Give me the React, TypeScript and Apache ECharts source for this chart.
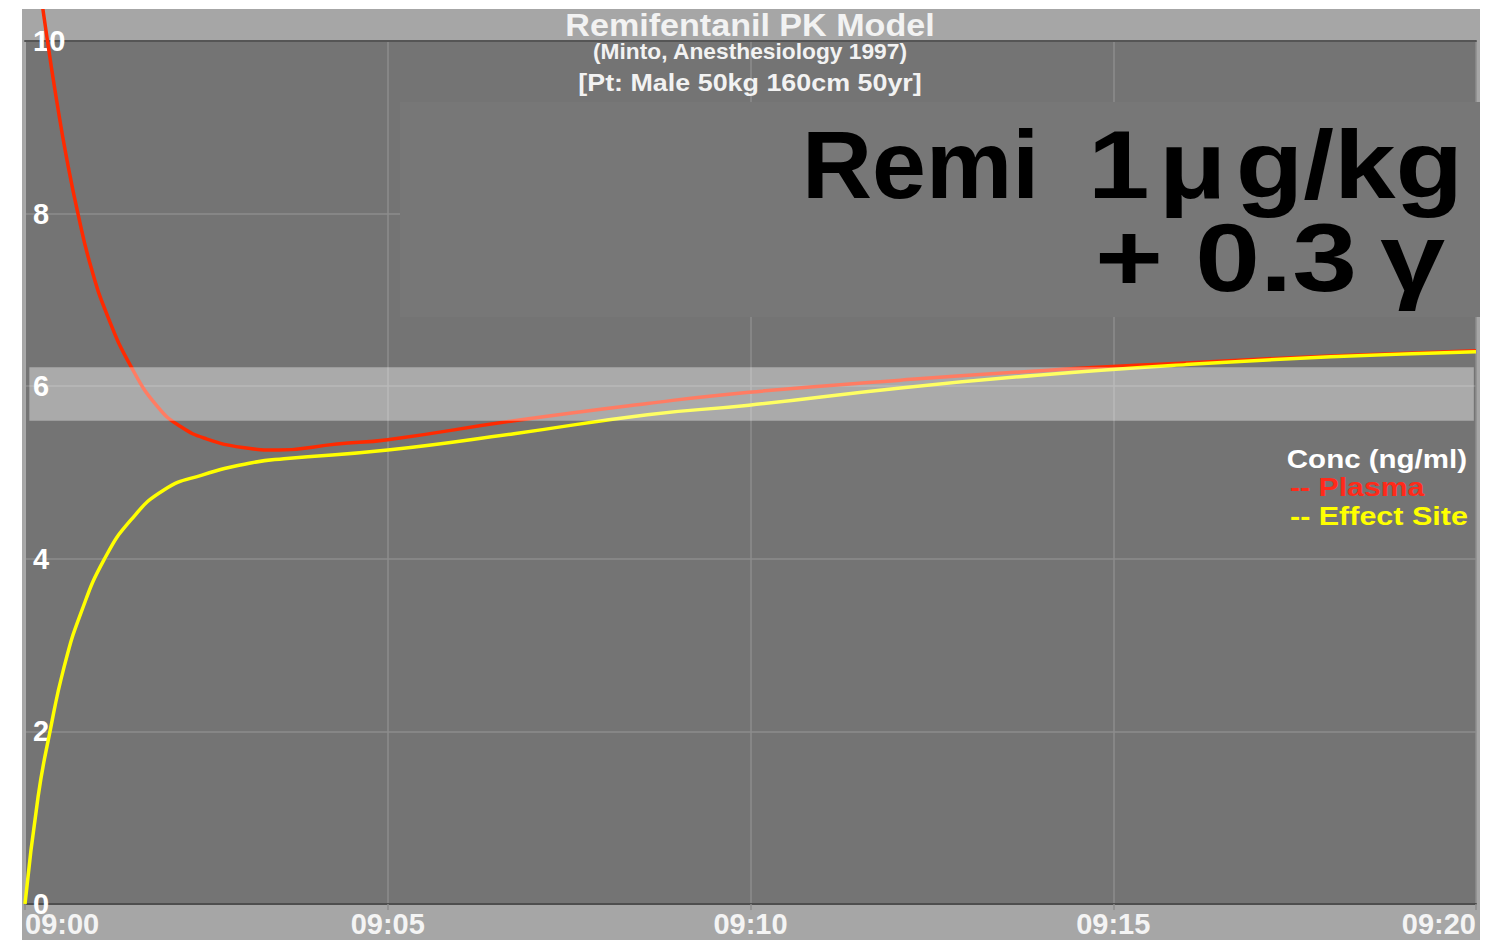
import React, { useEffect, useRef } from 'react';
import * as echarts from 'echarts';

// minutes after 09:00
const plasmaTime = [0, 0.15, 0.31, 0.45, 0.57, 0.73, 0.91, 1.14, 1.46, 1.83, 2.15, 2.5, 3.0, 3.5, 4.3, 5.0, 6.74, 8.58, 9.98, 12.07, 14, 16, 18, 20];
const plasmaConc = [12.2, 11.0, 10.0, 9.24, 8.66, 8.0, 7.38, 6.81, 6.23, 5.76, 5.53, 5.39, 5.29, 5.26, 5.33, 5.38, 5.6, 5.8, 5.93, 6.07, 6.18, 6.27, 6.35, 6.41];

const effectTime = [0, 0.18, 0.34, 0.54, 0.77, 1.09, 1.46, 1.92, 2.44, 3.11, 3.57, 5.0, 6.74, 8.58, 9.98, 12.07, 14, 16, 18, 20];
const effectConc = [0, 1.24, 1.98, 2.75, 3.37, 3.99, 4.45, 4.8, 4.97, 5.11, 5.16, 5.26, 5.45, 5.67, 5.78, 5.98, 6.13, 6.25, 6.34, 6.4];

const xTickLabels = ['09:00', '09:05', '09:10', '09:15', '09:20'];
const targetBand = { low: 5.6, high: 6.22, fromMin: 0.06, toMin: 19.97 };

const titleText = 'Remifentanil PK Model';
const subTitle1 = '(Minto, Anesthesiology 1997)';
const subTitle2 = '[Pt: Male 50kg 160cm 50yr]';
const doseDrug = 'Remi';
const doseBolus = '1\u200a\u03bc\u200ag/kg';
const doseInfusion = '+ 0.3\u2009\u03b3';
const legendHead = 'Conc (ng/ml)';
const legendPlasma = '-- Plasma';
const legendEffect = '-- Effect Site';

const RED = '#ff2a00';
const YELLOW = '#ffff00';
const FONT = '"Liberation Sans", Arial, sans-serif';

export default function App() {
  const ref = useRef<HTMLDivElement>(null);
  useEffect(() => {
    if (!ref.current) return;
    const chart = echarts.init(ref.current, null, { renderer: 'svg' });
    chart.setOption({
      animation: false,
      backgroundColor: '#a6a6a6',
      grid: {
        left: 0,
        right: 4,
        top: 32,
        bottom: 36,
        show: true,
        backgroundColor: '#747474',
        borderWidth: 0,
      },
      xAxis: [
        {
          type: 'value',
          min: 0,
          max: 20,
          interval: 5,
          axisLine: { show: true, lineStyle: { color: '#4e4e4e', width: 2 } },
          axisTick: { show: true, length: 6, lineStyle: { color: '#8c8c8c', width: 1.5 } },
          splitLine: { show: true, lineStyle: { color: '#8c8c8c', width: 1.5 } },
          axisLabel: {
            color: '#f4f4f4',
            fontSize: 29,
            fontWeight: 'bold',
            fontFamily: FONT,
            margin: 5,
            alignMinLabel: 'left',
            alignMaxLabel: 'right',
            formatter: (v: number) => xTickLabels[Math.round(v / 5)],
          },
        },
        {
          type: 'value',
          position: 'top',
          min: 0,
          max: 20,
          axisLine: { show: true, lineStyle: { color: '#555555', width: 2 } },
          axisTick: { show: false },
          axisLabel: { show: false },
          splitLine: { show: false },
        },
      ],
      yAxis: {
        type: 'value',
        min: 0,
        max: 10,
        interval: 2,
        axisLine: { show: true, lineStyle: { color: '#a9a9a9', width: 2 } },
        axisTick: { show: false },
        splitLine: { show: true, lineStyle: { color: '#8c8c8c', width: 1.5 } },
        axisLabel: {
          inside: true,
          margin: 8,
          color: '#ffffff',
          fontSize: 29,
          fontWeight: 'bold',
          fontFamily: FONT,
        },
      },
      series: [
        {
          name: 'Plasma',
          type: 'line',
          data: plasmaTime.map((t, i) => [t, plasmaConc[i]]),
          smooth: 0.5,
          symbol: 'none',
          clip: false,
          z: 2,
          lineStyle: { color: RED, width: 3.5 },
          markArea: {
            silent: true,
            z: 5,
            itemStyle: { color: 'rgba(255,255,255,0.39)' },
            data: [[
              { xAxis: targetBand.fromMin, yAxis: targetBand.low },
              { xAxis: targetBand.toMin, yAxis: targetBand.high },
            ]],
          },
        },
        {
          name: 'Effect Site',
          type: 'line',
          data: effectTime.map((t, i) => [t, effectConc[i]]),
          smooth: 0.5,
          symbol: 'none',
          clip: false,
          z: 3,
          lineStyle: { color: YELLOW, width: 3.5 },
        },
      ],
      graphic: [
        {
          type: 'rect',
          z: 10,
          shape: { x: 378, y: 93, width: 1080, height: 215 },
          style: { fill: '#777777' },
        },
        {
          type: 'text', z: 11, x: 728, y: 17, scaleX: 1.1,
          style: { text: titleText, fill: '#f2f2f2', font: `bold 31px ${FONT}`, align: 'center', verticalAlign: 'middle' },
        },
        {
          type: 'text', z: 11, x: 728, y: 43, scaleX: 1.035,
          style: { text: subTitle1, fill: '#f2f2f2', font: `bold 22px ${FONT}`, align: 'center', verticalAlign: 'middle' },
        },
        {
          type: 'text', z: 11, x: 728, y: 74, scaleX: 1.12,
          style: { text: subTitle2, fill: '#f2f2f2', font: `bold 24px ${FONT}`, align: 'center', verticalAlign: 'middle' },
        },
        {
          type: 'text', z: 11, x: 780, y: 155, scaleX: 1.0,
          style: { text: doseDrug, fill: '#000000', font: `bold 97px ${FONT}`, align: 'left', verticalAlign: 'middle' },
        },
        {
          type: 'text', z: 11, x: 1441, y: 155, scaleX: 1.14,
          style: { text: doseBolus, fill: '#000000', font: `bold 97px ${FONT}`, align: 'right', verticalAlign: 'middle' },
        },
        {
          type: 'text', z: 11, x: 1423, y: 249, scaleX: 1.2,
          style: { text: doseInfusion, fill: '#000000', font: `bold 97px ${FONT}`, align: 'right', verticalAlign: 'middle' },
        },
        {
          type: 'text', z: 11, x: 1445, y: 450, scaleX: 1.18,
          style: { text: legendHead, fill: '#ffffff', font: `bold 25px ${FONT}`, align: 'right', verticalAlign: 'middle' },
        },
        {
          type: 'text', z: 11, x: 1268, y: 478, scaleX: 1.21,
          style: { text: legendPlasma, fill: '#ff2a1a', font: `bold 25px ${FONT}`, align: 'left', verticalAlign: 'middle' },
        },
        {
          type: 'text', z: 11, x: 1268, y: 507, scaleX: 1.22,
          style: { text: legendEffect, fill: YELLOW, font: `bold 25px ${FONT}`, align: 'left', verticalAlign: 'middle' },
        },
      ],
    });
    return () => chart.dispose();
  }, []);
  return (
    <div
      ref={ref}
      style={{ position: 'absolute', left: 22, top: 9, width: 1458, height: 931 }}
    />
  );
}
